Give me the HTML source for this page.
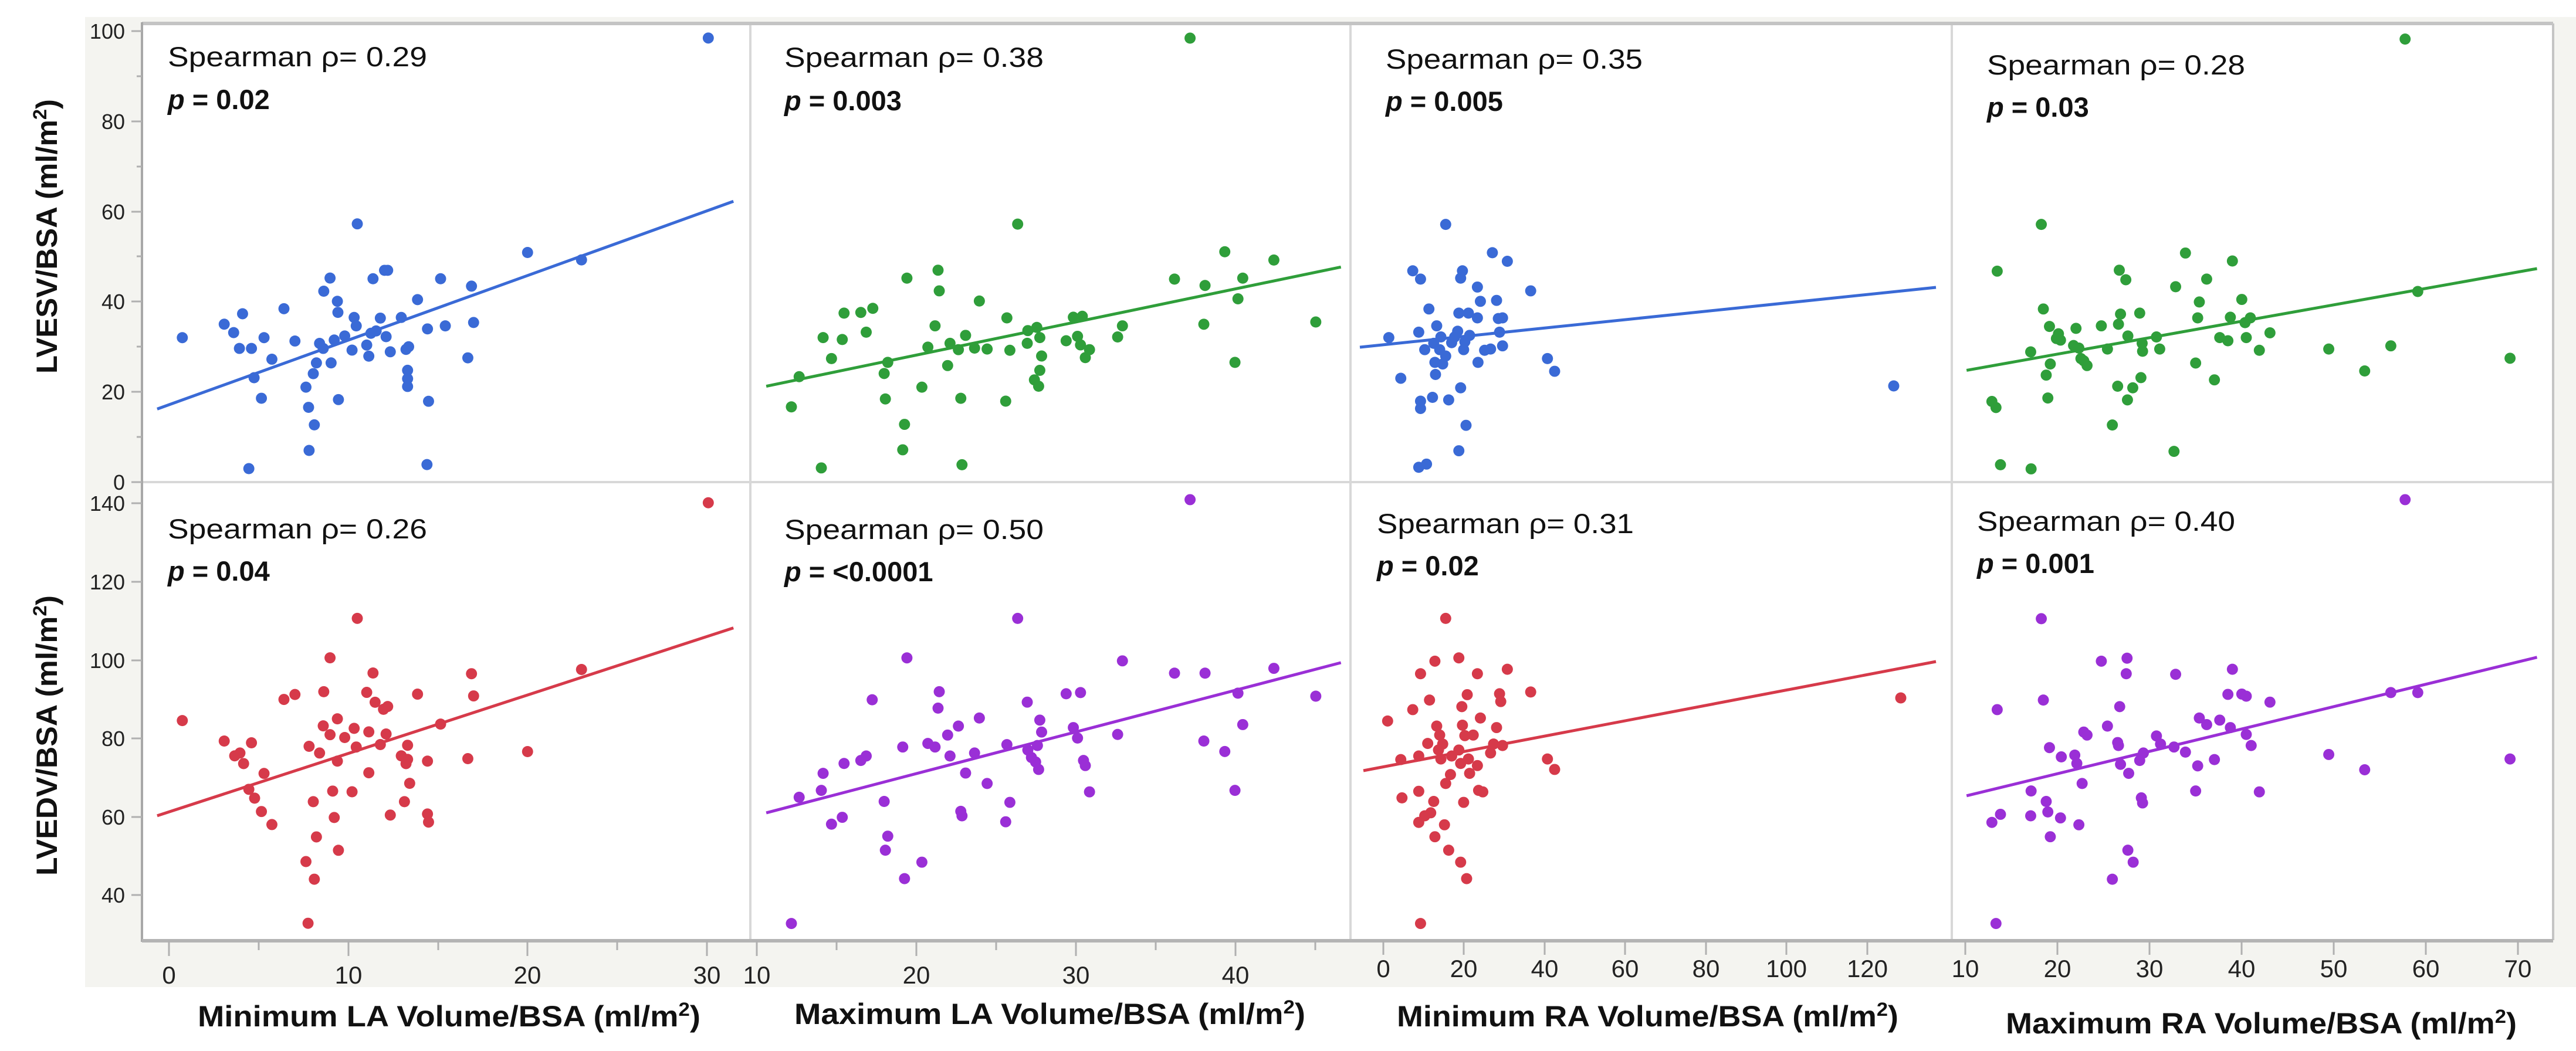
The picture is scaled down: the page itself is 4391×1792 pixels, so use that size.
<!DOCTYPE html>
<html><head><meta charset="utf-8"><style>
html,body{margin:0;padding:0;background:#fff;}
svg{display:block;}
.tk{font-family:"Liberation Sans Narrow","Liberation Sans",sans-serif;font-size:36px;fill:#222;}
.an{font-family:"Liberation Sans Narrow","Liberation Sans",sans-serif;font-size:47px;fill:#111;}
.ti{font-family:"Liberation Sans Narrow","Liberation Sans",sans-serif;font-size:50px;font-weight:bold;fill:#111;}
</style></head><body>
<svg width="4391" height="1792" viewBox="0 0 4391 1792" xmlns="http://www.w3.org/2000/svg">
<rect x="145" y="29" width="4246" height="1654" fill="#f4f4f0"/>
<rect x="242" y="40" width="4110" height="1563" fill="#fff"/>
<g stroke="#d8d8d8" stroke-width="4">
<line x1="1279" y1="40" x2="1279" y2="1603"/>
<line x1="2302" y1="40" x2="2302" y2="1603"/>
<line x1="3327" y1="40" x2="3327" y2="1603"/>
<line x1="242" y1="822" x2="4352" y2="822"/>
</g>
<line x1="242" y1="40" x2="4352" y2="40" stroke="#c4c4c4" stroke-width="6"/>
<line x1="4352" y1="40" x2="4352" y2="1603" stroke="#c4c4c4" stroke-width="4"/>
<line x1="242" y1="38" x2="242" y2="1606" stroke="#a8a8a8" stroke-width="4"/>
<line x1="242" y1="1604" x2="4352" y2="1604" stroke="#b4b4b4" stroke-width="6"/>

<g stroke="#b0b0b0" stroke-width="3">
<line x1="224" y1="53" x2="242" y2="53"/><line x1="224" y1="207" x2="242" y2="207"/><line x1="224" y1="361" x2="242" y2="361"/><line x1="224" y1="514" x2="242" y2="514"/><line x1="224" y1="668" x2="242" y2="668"/><line x1="224" y1="822" x2="242" y2="822"/>
<line x1="233" y1="130" x2="242" y2="130"/><line x1="233" y1="284" x2="242" y2="284"/><line x1="233" y1="437" x2="242" y2="437"/><line x1="233" y1="591" x2="242" y2="591"/><line x1="233" y1="745" x2="242" y2="745"/>
<line x1="224" y1="858" x2="242" y2="858"/><line x1="224" y1="992" x2="242" y2="992"/><line x1="224" y1="1126" x2="242" y2="1126"/><line x1="224" y1="1259" x2="242" y2="1259"/><line x1="224" y1="1393" x2="242" y2="1393"/><line x1="224" y1="1526" x2="242" y2="1526"/>
</g>
<g class="tk" text-anchor="end">
<text x="213" y="66">100</text><text x="213" y="220">80</text><text x="213" y="374">60</text><text x="213" y="527">40</text><text x="213" y="681">20</text><text x="213" y="835">0</text>
<text x="213" y="871">140</text><text x="213" y="1005">120</text><text x="213" y="1139">100</text><text x="213" y="1272">80</text><text x="213" y="1406">60</text><text x="213" y="1539">40</text>
</g>
<g stroke="#b0b0b0" stroke-width="3">
<line x1="288" y1="1604" x2="288" y2="1630"/><line x1="594" y1="1604" x2="594" y2="1630"/><line x1="899" y1="1604" x2="899" y2="1630"/><line x1="1205" y1="1604" x2="1205" y2="1630"/>
<line x1="441" y1="1604" x2="441" y2="1620"/><line x1="747" y1="1604" x2="747" y2="1620"/><line x1="1052" y1="1604" x2="1052" y2="1620"/>
<line x1="1290" y1="1604" x2="1290" y2="1630"/><line x1="1562" y1="1604" x2="1562" y2="1630"/><line x1="1834" y1="1604" x2="1834" y2="1630"/><line x1="2106" y1="1604" x2="2106" y2="1630"/>
<line x1="1426" y1="1604" x2="1426" y2="1620"/><line x1="1698" y1="1604" x2="1698" y2="1620"/><line x1="1970" y1="1604" x2="1970" y2="1620"/><line x1="2242" y1="1604" x2="2242" y2="1620"/>
<line x1="2358" y1="1604" x2="2358" y2="1628"/><line x1="2495" y1="1604" x2="2495" y2="1628"/><line x1="2633" y1="1604" x2="2633" y2="1628"/><line x1="2770" y1="1604" x2="2770" y2="1628"/><line x1="2908" y1="1604" x2="2908" y2="1628"/><line x1="3045" y1="1604" x2="3045" y2="1628"/><line x1="3183" y1="1604" x2="3183" y2="1628"/>
<line x1="3350" y1="1604" x2="3350" y2="1628"/><line x1="3507" y1="1604" x2="3507" y2="1628"/><line x1="3664" y1="1604" x2="3664" y2="1628"/><line x1="3821" y1="1604" x2="3821" y2="1628"/><line x1="3978" y1="1604" x2="3978" y2="1628"/><line x1="4135" y1="1604" x2="4135" y2="1628"/><line x1="4292" y1="1604" x2="4292" y2="1628"/>
</g>
<g class="tk" text-anchor="middle" style="font-size:42px">
<text x="288" y="1677">0</text><text x="594" y="1677">10</text><text x="899" y="1677">20</text><text x="1205" y="1677">30</text>
<text x="1290" y="1677">10</text><text x="1562" y="1677">20</text><text x="1834" y="1677">30</text><text x="2106" y="1677">40</text>
<text x="2358" y="1666">0</text><text x="2495" y="1666">20</text><text x="2633" y="1666">40</text><text x="2770" y="1666">60</text><text x="2908" y="1666">80</text><text x="3045" y="1666">100</text><text x="3183" y="1666">120</text>
<text x="3350" y="1666">10</text><text x="3507" y="1666">20</text><text x="3664" y="1666">30</text><text x="3821" y="1666">40</text><text x="3978" y="1666">50</text><text x="4135" y="1666">60</text><text x="4292" y="1666">70</text>
</g>

<text class="ti" transform="translate(97,403) rotate(-90)" text-anchor="middle" textLength="468" lengthAdjust="spacingAndGlyphs">LVESV/BSA (ml/m<tspan dy="-18" font-size="32">2</tspan><tspan dy="18">)</tspan></text>
<text class="ti" transform="translate(97,1254) rotate(-90)" text-anchor="middle" textLength="478" lengthAdjust="spacingAndGlyphs">LVEDV/BSA (ml/m<tspan dy="-18" font-size="32">2</tspan><tspan dy="18">)</tspan></text>
<text class="ti" x="337" y="1750" textLength="857" lengthAdjust="spacingAndGlyphs">Minimum LA Volume/BSA (ml/m<tspan dy="-18" font-size="32">2</tspan><tspan dy="18">)</tspan></text>
<text class="ti" x="1354" y="1746" textLength="871" lengthAdjust="spacingAndGlyphs">Maximum LA Volume/BSA (ml/m<tspan dy="-18" font-size="32">2</tspan><tspan dy="18">)</tspan></text>
<text class="ti" x="2381" y="1750" textLength="855" lengthAdjust="spacingAndGlyphs">Minimum RA Volume/BSA (ml/m<tspan dy="-18" font-size="32">2</tspan><tspan dy="18">)</tspan></text>
<text class="ti" x="3419" y="1762" textLength="871" lengthAdjust="spacingAndGlyphs">Maximum RA Volume/BSA (ml/m<tspan dy="-18" font-size="32">2</tspan><tspan dy="18">)</tspan></text>

<g class="an">
<text x="286" y="113" textLength="442" lengthAdjust="spacingAndGlyphs">Spearman ρ= 0.29</text>
<text x="286" y="186" font-weight="bold"><tspan font-style="italic">p</tspan> = 0.02</text>
<text x="1337" y="114" textLength="442" lengthAdjust="spacingAndGlyphs">Spearman ρ= 0.38</text>
<text x="1337" y="188" font-weight="bold"><tspan font-style="italic">p</tspan> = 0.003</text>
<text x="2362" y="117" textLength="438" lengthAdjust="spacingAndGlyphs">Spearman ρ= 0.35</text>
<text x="2362" y="189" font-weight="bold"><tspan font-style="italic">p</tspan> = 0.005</text>
<text x="3387" y="127" textLength="440" lengthAdjust="spacingAndGlyphs">Spearman ρ= 0.28</text>
<text x="3387" y="199" font-weight="bold"><tspan font-style="italic">p</tspan> = 0.03</text>
<text x="286" y="918" textLength="442" lengthAdjust="spacingAndGlyphs">Spearman ρ= 0.26</text>
<text x="286" y="990" font-weight="bold"><tspan font-style="italic">p</tspan> = 0.04</text>
<text x="1337" y="919" textLength="442" lengthAdjust="spacingAndGlyphs">Spearman ρ= 0.50</text>
<text x="1337" y="991" font-weight="bold"><tspan font-style="italic">p</tspan> = &lt;0.0001</text>
<text x="2347" y="909" textLength="438" lengthAdjust="spacingAndGlyphs">Spearman ρ= 0.31</text>
<text x="2347" y="981" font-weight="bold"><tspan font-style="italic">p</tspan> = 0.02</text>
<text x="3370" y="905" textLength="440" lengthAdjust="spacingAndGlyphs">Spearman ρ= 0.40</text>
<text x="3370" y="977" font-weight="bold"><tspan font-style="italic">p</tspan> = 0.001</text>
</g>

<g transform="scale(0.893,0.574)" fill="#3a6ad6">
<line x1="300" y1="1215" x2="1400" y2="598" stroke="#3a6ad6" stroke-width="5" vector-effect="non-scaling-stroke"/>
<ellipse cx="348" cy="1003" rx="10.6" ry="16.5"/><ellipse cx="428" cy="963" rx="10.6" ry="16.5"/><ellipse cx="446" cy="988" rx="10.6" ry="16.5"/><ellipse cx="463" cy="932" rx="10.6" ry="16.5"/><ellipse cx="457" cy="1035" rx="10.6" ry="16.5"/><ellipse cx="480" cy="1035" rx="10.6" ry="16.5"/><ellipse cx="475" cy="1392" rx="10.6" ry="16.5"/><ellipse cx="485" cy="1122" rx="10.6" ry="16.5"/><ellipse cx="499" cy="1183" rx="10.6" ry="16.5"/><ellipse cx="504" cy="1003" rx="10.6" ry="16.5"/><ellipse cx="519" cy="1067" rx="10.6" ry="16.5"/><ellipse cx="542" cy="917" rx="10.6" ry="16.5"/><ellipse cx="563" cy="1013" rx="10.6" ry="16.5"/><ellipse cx="584" cy="1150" rx="10.6" ry="16.5"/><ellipse cx="589" cy="1210" rx="10.6" ry="16.5"/><ellipse cx="590" cy="1338" rx="10.6" ry="16.5"/><ellipse cx="600" cy="1262" rx="10.6" ry="16.5"/><ellipse cx="598" cy="1110" rx="10.6" ry="16.5"/><ellipse cx="604" cy="1078" rx="10.6" ry="16.5"/><ellipse cx="610" cy="1020" rx="10.6" ry="16.5"/><ellipse cx="618" cy="865" rx="10.6" ry="16.5"/><ellipse cx="617" cy="1035" rx="10.6" ry="16.5"/><ellipse cx="630" cy="826" rx="10.6" ry="16.5"/><ellipse cx="632" cy="1078" rx="10.6" ry="16.5"/><ellipse cx="638" cy="1010" rx="10.6" ry="16.5"/><ellipse cx="644" cy="895" rx="10.6" ry="16.5"/><ellipse cx="645" cy="928" rx="10.6" ry="16.5"/><ellipse cx="646" cy="1187" rx="10.6" ry="16.5"/><ellipse cx="658" cy="998" rx="10.6" ry="16.5"/><ellipse cx="672" cy="1040" rx="10.6" ry="16.5"/><ellipse cx="676" cy="943" rx="10.6" ry="16.5"/><ellipse cx="680" cy="968" rx="10.6" ry="16.5"/><ellipse cx="682" cy="665" rx="10.6" ry="16.5"/><ellipse cx="700" cy="1025" rx="10.6" ry="16.5"/><ellipse cx="704" cy="1058" rx="10.6" ry="16.5"/><ellipse cx="712" cy="828" rx="10.6" ry="16.5"/><ellipse cx="708" cy="990" rx="10.6" ry="16.5"/><ellipse cx="718" cy="983" rx="10.6" ry="16.5"/><ellipse cx="726" cy="945" rx="10.6" ry="16.5"/><ellipse cx="734" cy="803" rx="10.6" ry="16.5"/><ellipse cx="740" cy="803" rx="10.6" ry="16.5"/><ellipse cx="737" cy="1000" rx="10.6" ry="16.5"/><ellipse cx="745" cy="1045" rx="10.6" ry="16.5"/><ellipse cx="766" cy="943" rx="10.6" ry="16.5"/><ellipse cx="775" cy="1038" rx="10.6" ry="16.5"/><ellipse cx="780" cy="1030" rx="10.6" ry="16.5"/><ellipse cx="778" cy="1100" rx="10.6" ry="16.5"/><ellipse cx="778" cy="1125" rx="10.6" ry="16.5"/><ellipse cx="778" cy="1148" rx="10.6" ry="16.5"/><ellipse cx="797" cy="890" rx="10.6" ry="16.5"/><ellipse cx="816" cy="977" rx="10.6" ry="16.5"/><ellipse cx="818" cy="1192" rx="10.6" ry="16.5"/><ellipse cx="815" cy="1380" rx="10.6" ry="16.5"/><ellipse cx="841" cy="828" rx="10.6" ry="16.5"/><ellipse cx="850" cy="968" rx="10.6" ry="16.5"/><ellipse cx="893" cy="1063" rx="10.6" ry="16.5"/><ellipse cx="900" cy="850" rx="10.6" ry="16.5"/><ellipse cx="904" cy="958" rx="10.6" ry="16.5"/><ellipse cx="1007" cy="750" rx="10.6" ry="16.5"/><ellipse cx="1110" cy="772" rx="10.6" ry="16.5"/><ellipse cx="1352" cy="113" rx="10.6" ry="16.5"/>
</g>

<g transform="translate(0,850) scale(0.893,0.601)" fill="#d63a4a">
<line x1="300" y1="900" x2="1400" y2="367" stroke="#d63a4a" stroke-width="5" vector-effect="non-scaling-stroke"/>
<ellipse cx="348" cy="630" rx="10.6" ry="15.8"/><ellipse cx="428" cy="688" rx="10.6" ry="15.8"/><ellipse cx="448" cy="730" rx="10.6" ry="15.8"/><ellipse cx="458" cy="722" rx="10.6" ry="15.8"/><ellipse cx="465" cy="752" rx="10.6" ry="15.8"/><ellipse cx="480" cy="693" rx="10.6" ry="15.8"/><ellipse cx="475" cy="825" rx="10.6" ry="15.8"/><ellipse cx="486" cy="850" rx="10.6" ry="15.8"/><ellipse cx="499" cy="888" rx="10.6" ry="15.8"/><ellipse cx="504" cy="780" rx="10.6" ry="15.8"/><ellipse cx="519" cy="925" rx="10.6" ry="15.8"/><ellipse cx="542" cy="570" rx="10.6" ry="15.8"/><ellipse cx="563" cy="556" rx="10.6" ry="15.8"/><ellipse cx="584" cy="1030" rx="10.6" ry="15.8"/><ellipse cx="588" cy="1205" rx="10.6" ry="15.8"/><ellipse cx="590" cy="703" rx="10.6" ry="15.8"/><ellipse cx="598" cy="860" rx="10.6" ry="15.8"/><ellipse cx="600" cy="1080" rx="10.6" ry="15.8"/><ellipse cx="604" cy="960" rx="10.6" ry="15.8"/><ellipse cx="610" cy="722" rx="10.6" ry="15.8"/><ellipse cx="618" cy="548" rx="10.6" ry="15.8"/><ellipse cx="617" cy="645" rx="10.6" ry="15.8"/><ellipse cx="630" cy="452" rx="10.6" ry="15.8"/><ellipse cx="630" cy="670" rx="10.6" ry="15.8"/><ellipse cx="635" cy="830" rx="10.6" ry="15.8"/><ellipse cx="638" cy="905" rx="10.6" ry="15.8"/><ellipse cx="644" cy="625" rx="10.6" ry="15.8"/><ellipse cx="644" cy="745" rx="10.6" ry="15.8"/><ellipse cx="646" cy="998" rx="10.6" ry="15.8"/><ellipse cx="658" cy="678" rx="10.6" ry="15.8"/><ellipse cx="672" cy="832" rx="10.6" ry="15.8"/><ellipse cx="676" cy="652" rx="10.6" ry="15.8"/><ellipse cx="680" cy="705" rx="10.6" ry="15.8"/><ellipse cx="682" cy="340" rx="10.6" ry="15.8"/><ellipse cx="700" cy="550" rx="10.6" ry="15.8"/><ellipse cx="704" cy="662" rx="10.6" ry="15.8"/><ellipse cx="704" cy="778" rx="10.6" ry="15.8"/><ellipse cx="712" cy="495" rx="10.6" ry="15.8"/><ellipse cx="716" cy="578" rx="10.6" ry="15.8"/><ellipse cx="726" cy="698" rx="10.6" ry="15.8"/><ellipse cx="732" cy="598" rx="10.6" ry="15.8"/><ellipse cx="740" cy="590" rx="10.6" ry="15.8"/><ellipse cx="737" cy="668" rx="10.6" ry="15.8"/><ellipse cx="745" cy="898" rx="10.6" ry="15.8"/><ellipse cx="766" cy="730" rx="10.6" ry="15.8"/><ellipse cx="772" cy="860" rx="10.6" ry="15.8"/><ellipse cx="775" cy="752" rx="10.6" ry="15.8"/><ellipse cx="778" cy="700" rx="10.6" ry="15.8"/><ellipse cx="778" cy="740" rx="10.6" ry="15.8"/><ellipse cx="782" cy="808" rx="10.6" ry="15.8"/><ellipse cx="797" cy="555" rx="10.6" ry="15.8"/><ellipse cx="816" cy="745" rx="10.6" ry="15.8"/><ellipse cx="816" cy="895" rx="10.6" ry="15.8"/><ellipse cx="818" cy="918" rx="10.6" ry="15.8"/><ellipse cx="841" cy="640" rx="10.6" ry="15.8"/><ellipse cx="893" cy="738" rx="10.6" ry="15.8"/><ellipse cx="900" cy="497" rx="10.6" ry="15.8"/><ellipse cx="904" cy="560" rx="10.6" ry="15.8"/><ellipse cx="1007" cy="718" rx="10.6" ry="15.8"/><ellipse cx="1110" cy="485" rx="10.6" ry="15.8"/><ellipse cx="1352" cy="12" rx="10.6" ry="15.8"/>
</g>

<g transform="translate(1250,0) scale(1.0204,0.542)" fill="#2f9e3a">
<line x1="55" y1="1215" x2="1015" y2="840" stroke="#2f9e3a" stroke-width="5" vector-effect="non-scaling-stroke"/>
<ellipse cx="97" cy="1280" rx="9.3" ry="17.5"/><ellipse cx="110" cy="1185" rx="9.3" ry="17.5"/><ellipse cx="147" cy="1472" rx="9.3" ry="17.5"/><ellipse cx="150" cy="1062" rx="9.3" ry="17.5"/><ellipse cx="164" cy="1128" rx="9.3" ry="17.5"/><ellipse cx="182" cy="1068" rx="9.3" ry="17.5"/><ellipse cx="185" cy="985" rx="9.3" ry="17.5"/><ellipse cx="213" cy="983" rx="9.3" ry="17.5"/><ellipse cx="222" cy="1045" rx="9.3" ry="17.5"/><ellipse cx="233" cy="970" rx="9.3" ry="17.5"/><ellipse cx="252" cy="1175" rx="9.3" ry="17.5"/><ellipse cx="254" cy="1255" rx="9.3" ry="17.5"/><ellipse cx="258" cy="1140" rx="9.3" ry="17.5"/><ellipse cx="283" cy="1415" rx="9.3" ry="17.5"/><ellipse cx="286" cy="1335" rx="9.3" ry="17.5"/><ellipse cx="290" cy="875" rx="9.3" ry="17.5"/><ellipse cx="315" cy="1218" rx="9.3" ry="17.5"/><ellipse cx="325" cy="1092" rx="9.3" ry="17.5"/><ellipse cx="337" cy="1025" rx="9.3" ry="17.5"/><ellipse cx="342" cy="850" rx="9.3" ry="17.5"/><ellipse cx="344" cy="915" rx="9.3" ry="17.5"/><ellipse cx="358" cy="1150" rx="9.3" ry="17.5"/><ellipse cx="362" cy="1080" rx="9.3" ry="17.5"/><ellipse cx="376" cy="1100" rx="9.3" ry="17.5"/><ellipse cx="380" cy="1253" rx="9.3" ry="17.5"/><ellipse cx="382" cy="1462" rx="9.3" ry="17.5"/><ellipse cx="388" cy="1055" rx="9.3" ry="17.5"/><ellipse cx="403" cy="1095" rx="9.3" ry="17.5"/><ellipse cx="411" cy="947" rx="9.3" ry="17.5"/><ellipse cx="424" cy="1098" rx="9.3" ry="17.5"/><ellipse cx="455" cy="1262" rx="9.3" ry="17.5"/><ellipse cx="457" cy="1000" rx="9.3" ry="17.5"/><ellipse cx="462" cy="1102" rx="9.3" ry="17.5"/><ellipse cx="475" cy="705" rx="9.3" ry="17.5"/><ellipse cx="491" cy="1080" rx="9.3" ry="17.5"/><ellipse cx="492" cy="1040" rx="9.3" ry="17.5"/><ellipse cx="503" cy="1195" rx="9.3" ry="17.5"/><ellipse cx="507" cy="1030" rx="9.3" ry="17.5"/><ellipse cx="510" cy="1215" rx="9.3" ry="17.5"/><ellipse cx="512" cy="1062" rx="9.3" ry="17.5"/><ellipse cx="515" cy="1120" rx="9.3" ry="17.5"/><ellipse cx="512" cy="1165" rx="9.3" ry="17.5"/><ellipse cx="556" cy="1072" rx="9.3" ry="17.5"/><ellipse cx="568" cy="998" rx="9.3" ry="17.5"/><ellipse cx="575" cy="1058" rx="9.3" ry="17.5"/><ellipse cx="580" cy="1085" rx="9.3" ry="17.5"/><ellipse cx="583" cy="995" rx="9.3" ry="17.5"/><ellipse cx="588" cy="1125" rx="9.3" ry="17.5"/><ellipse cx="595" cy="1100" rx="9.3" ry="17.5"/><ellipse cx="642" cy="1060" rx="9.3" ry="17.5"/><ellipse cx="650" cy="1025" rx="9.3" ry="17.5"/><ellipse cx="737" cy="878" rx="9.3" ry="17.5"/><ellipse cx="786" cy="1020" rx="9.3" ry="17.5"/><ellipse cx="788" cy="898" rx="9.3" ry="17.5"/><ellipse cx="821" cy="792" rx="9.3" ry="17.5"/><ellipse cx="838" cy="1140" rx="9.3" ry="17.5"/><ellipse cx="843" cy="940" rx="9.3" ry="17.5"/><ellipse cx="851" cy="875" rx="9.3" ry="17.5"/><ellipse cx="903" cy="818" rx="9.3" ry="17.5"/><ellipse cx="973" cy="1013" rx="9.3" ry="17.5"/><ellipse cx="763" cy="120" rx="9.3" ry="17.5"/>
</g>

<g transform="translate(1250,0) scale(1.0204,0.542)" fill="#3a6ad6">
<ellipse cx="1095" cy="1062" rx="9.3" ry="17.5"/><ellipse cx="1115" cy="1190" rx="9.3" ry="17.5"/><ellipse cx="1135" cy="852" rx="9.3" ry="17.5"/><ellipse cx="1148" cy="878" rx="9.3" ry="17.5"/><ellipse cx="1145" cy="1045" rx="9.3" ry="17.5"/><ellipse cx="1148" cy="1262" rx="9.3" ry="17.5"/><ellipse cx="1148" cy="1285" rx="9.3" ry="17.5"/><ellipse cx="1145" cy="1470" rx="9.3" ry="17.5"/><ellipse cx="1158" cy="1460" rx="9.3" ry="17.5"/><ellipse cx="1155" cy="1100" rx="9.3" ry="17.5"/><ellipse cx="1162" cy="972" rx="9.3" ry="17.5"/><ellipse cx="1168" cy="1250" rx="9.3" ry="17.5"/><ellipse cx="1170" cy="1080" rx="9.3" ry="17.5"/><ellipse cx="1172" cy="1140" rx="9.3" ry="17.5"/><ellipse cx="1173" cy="1178" rx="9.3" ry="17.5"/><ellipse cx="1175" cy="1025" rx="9.3" ry="17.5"/><ellipse cx="1180" cy="1100" rx="9.3" ry="17.5"/><ellipse cx="1182" cy="1060" rx="9.3" ry="17.5"/><ellipse cx="1185" cy="1145" rx="9.3" ry="17.5"/><ellipse cx="1190" cy="706" rx="9.3" ry="17.5"/><ellipse cx="1190" cy="1120" rx="9.3" ry="17.5"/><ellipse cx="1195" cy="1258" rx="9.3" ry="17.5"/><ellipse cx="1200" cy="1078" rx="9.3" ry="17.5"/><ellipse cx="1205" cy="1060" rx="9.3" ry="17.5"/><ellipse cx="1210" cy="1042" rx="9.3" ry="17.5"/><ellipse cx="1212" cy="1418" rx="9.3" ry="17.5"/><ellipse cx="1212" cy="985" rx="9.3" ry="17.5"/><ellipse cx="1215" cy="1220" rx="9.3" ry="17.5"/><ellipse cx="1215" cy="875" rx="9.3" ry="17.5"/><ellipse cx="1218" cy="852" rx="9.3" ry="17.5"/><ellipse cx="1220" cy="1100" rx="9.3" ry="17.5"/><ellipse cx="1222" cy="1075" rx="9.3" ry="17.5"/><ellipse cx="1224" cy="1338" rx="9.3" ry="17.5"/><ellipse cx="1228" cy="985" rx="9.3" ry="17.5"/><ellipse cx="1230" cy="1055" rx="9.3" ry="17.5"/><ellipse cx="1243" cy="1000" rx="9.3" ry="17.5"/><ellipse cx="1243" cy="903" rx="9.3" ry="17.5"/><ellipse cx="1244" cy="1140" rx="9.3" ry="17.5"/><ellipse cx="1248" cy="948" rx="9.3" ry="17.5"/><ellipse cx="1255" cy="1102" rx="9.3" ry="17.5"/><ellipse cx="1265" cy="1098" rx="9.3" ry="17.5"/><ellipse cx="1268" cy="795" rx="9.3" ry="17.5"/><ellipse cx="1275" cy="945" rx="9.3" ry="17.5"/><ellipse cx="1278" cy="1002" rx="9.3" ry="17.5"/><ellipse cx="1280" cy="1045" rx="9.3" ry="17.5"/><ellipse cx="1285" cy="1088" rx="9.3" ry="17.5"/><ellipse cx="1285" cy="1000" rx="9.3" ry="17.5"/><ellipse cx="1293" cy="822" rx="9.3" ry="17.5"/><ellipse cx="1332" cy="915" rx="9.3" ry="17.5"/><ellipse cx="1360" cy="1128" rx="9.3" ry="17.5"/><ellipse cx="1372" cy="1168" rx="9.3" ry="17.5"/>
</g>
<line x1="2318" y1="592" x2="3300" y2="490" stroke="#3a6ad6" stroke-width="5"/>
<circle cx="3228" cy="658" r="9.5" fill="#3a6ad6"/>

<g transform="translate(3300,0) scale(0.696,0.542)" fill="#2f9e3a">
<line x1="75" y1="1165" x2="1472" y2="845" stroke="#2f9e3a" stroke-width="5" vector-effect="non-scaling-stroke"/>
<ellipse cx="150" cy="853" rx="13.6" ry="17.5"/><ellipse cx="258" cy="706" rx="13.6" ry="17.5"/><ellipse cx="263" cy="972" rx="13.6" ry="17.5"/><ellipse cx="278" cy="1027" rx="13.6" ry="17.5"/><ellipse cx="300" cy="1050" rx="13.6" ry="17.5"/><ellipse cx="305" cy="1070" rx="13.6" ry="17.5"/><ellipse cx="295" cy="1065" rx="13.6" ry="17.5"/><ellipse cx="343" cy="1033" rx="13.6" ry="17.5"/><ellipse cx="337" cy="1087" rx="13.6" ry="17.5"/><ellipse cx="350" cy="1095" rx="13.6" ry="17.5"/><ellipse cx="355" cy="1128" rx="13.6" ry="17.5"/><ellipse cx="362" cy="1135" rx="13.6" ry="17.5"/><ellipse cx="370" cy="1150" rx="13.6" ry="17.5"/><ellipse cx="405" cy="1025" rx="13.6" ry="17.5"/><ellipse cx="420" cy="1098" rx="13.6" ry="17.5"/><ellipse cx="447" cy="1020" rx="13.6" ry="17.5"/><ellipse cx="452" cy="988" rx="13.6" ry="17.5"/><ellipse cx="449" cy="850" rx="13.6" ry="17.5"/><ellipse cx="465" cy="880" rx="13.6" ry="17.5"/><ellipse cx="470" cy="1057" rx="13.6" ry="17.5"/><ellipse cx="499" cy="985" rx="13.6" ry="17.5"/><ellipse cx="505" cy="1080" rx="13.6" ry="17.5"/><ellipse cx="506" cy="1105" rx="13.6" ry="17.5"/><ellipse cx="502" cy="1188" rx="13.6" ry="17.5"/><ellipse cx="482" cy="1220" rx="13.6" ry="17.5"/><ellipse cx="445" cy="1215" rx="13.6" ry="17.5"/><ellipse cx="469" cy="1258" rx="13.6" ry="17.5"/><ellipse cx="432" cy="1337" rx="13.6" ry="17.5"/><ellipse cx="548" cy="1098" rx="13.6" ry="17.5"/><ellipse cx="540" cy="1060" rx="13.6" ry="17.5"/><ellipse cx="587" cy="902" rx="13.6" ry="17.5"/><ellipse cx="611" cy="796" rx="13.6" ry="17.5"/><ellipse cx="641" cy="1000" rx="13.6" ry="17.5"/><ellipse cx="645" cy="950" rx="13.6" ry="17.5"/><ellipse cx="663" cy="878" rx="13.6" ry="17.5"/><ellipse cx="636" cy="1142" rx="13.6" ry="17.5"/><ellipse cx="682" cy="1195" rx="13.6" ry="17.5"/><ellipse cx="695" cy="1062" rx="13.6" ry="17.5"/><ellipse cx="715" cy="1072" rx="13.6" ry="17.5"/><ellipse cx="721" cy="998" rx="13.6" ry="17.5"/><ellipse cx="726" cy="821" rx="13.6" ry="17.5"/><ellipse cx="749" cy="942" rx="13.6" ry="17.5"/><ellipse cx="760" cy="1062" rx="13.6" ry="17.5"/><ellipse cx="757" cy="1015" rx="13.6" ry="17.5"/><ellipse cx="770" cy="1000" rx="13.6" ry="17.5"/><ellipse cx="792" cy="1102" rx="13.6" ry="17.5"/><ellipse cx="818" cy="1047" rx="13.6" ry="17.5"/><ellipse cx="962" cy="1098" rx="13.6" ry="17.5"/><ellipse cx="1050" cy="1167" rx="13.6" ry="17.5"/><ellipse cx="1114" cy="1088" rx="13.6" ry="17.5"/><ellipse cx="1180" cy="917" rx="13.6" ry="17.5"/><ellipse cx="1406" cy="1127" rx="13.6" ry="17.5"/><ellipse cx="1149" cy="123" rx="13.6" ry="17.5"/><ellipse cx="232" cy="1107" rx="13.6" ry="17.5"/><ellipse cx="280" cy="1145" rx="13.6" ry="17.5"/><ellipse cx="270" cy="1180" rx="13.6" ry="17.5"/><ellipse cx="274" cy="1252" rx="13.6" ry="17.5"/><ellipse cx="137" cy="1263" rx="13.6" ry="17.5"/><ellipse cx="147" cy="1282" rx="13.6" ry="17.5"/><ellipse cx="158" cy="1462" rx="13.6" ry="17.5"/><ellipse cx="233" cy="1475" rx="13.6" ry="17.5"/><ellipse cx="583" cy="1420" rx="13.6" ry="17.5"/>
</g>

<g transform="translate(1250,830) scale(1.0204,0.510)" fill="#9a2fd6">
<line x1="55" y1="1090" x2="1015" y2="588" stroke="#9a2fd6" stroke-width="5" vector-effect="non-scaling-stroke"/>
<ellipse cx="97" cy="1460" rx="9.3" ry="18.6"/><ellipse cx="110" cy="1038" rx="9.3" ry="18.6"/><ellipse cx="147" cy="1015" rx="9.3" ry="18.6"/><ellipse cx="150" cy="958" rx="9.3" ry="18.6"/><ellipse cx="164" cy="1128" rx="9.3" ry="18.6"/><ellipse cx="182" cy="1105" rx="9.3" ry="18.6"/><ellipse cx="185" cy="925" rx="9.3" ry="18.6"/><ellipse cx="213" cy="915" rx="9.3" ry="18.6"/><ellipse cx="222" cy="900" rx="9.3" ry="18.6"/><ellipse cx="232" cy="712" rx="9.3" ry="18.6"/><ellipse cx="252" cy="1052" rx="9.3" ry="18.6"/><ellipse cx="254" cy="1215" rx="9.3" ry="18.6"/><ellipse cx="258" cy="1168" rx="9.3" ry="18.6"/><ellipse cx="283" cy="870" rx="9.3" ry="18.6"/><ellipse cx="286" cy="1310" rx="9.3" ry="18.6"/><ellipse cx="290" cy="572" rx="9.3" ry="18.6"/><ellipse cx="315" cy="1255" rx="9.3" ry="18.6"/><ellipse cx="325" cy="858" rx="9.3" ry="18.6"/><ellipse cx="337" cy="870" rx="9.3" ry="18.6"/><ellipse cx="342" cy="740" rx="9.3" ry="18.6"/><ellipse cx="344" cy="685" rx="9.3" ry="18.6"/><ellipse cx="358" cy="830" rx="9.3" ry="18.6"/><ellipse cx="362" cy="900" rx="9.3" ry="18.6"/><ellipse cx="376" cy="800" rx="9.3" ry="18.6"/><ellipse cx="380" cy="1085" rx="9.3" ry="18.6"/><ellipse cx="382" cy="1100" rx="9.3" ry="18.6"/><ellipse cx="388" cy="957" rx="9.3" ry="18.6"/><ellipse cx="403" cy="890" rx="9.3" ry="18.6"/><ellipse cx="411" cy="773" rx="9.3" ry="18.6"/><ellipse cx="424" cy="992" rx="9.3" ry="18.6"/><ellipse cx="455" cy="1120" rx="9.3" ry="18.6"/><ellipse cx="457" cy="862" rx="9.3" ry="18.6"/><ellipse cx="462" cy="1055" rx="9.3" ry="18.6"/><ellipse cx="475" cy="440" rx="9.3" ry="18.6"/><ellipse cx="491" cy="720" rx="9.3" ry="18.6"/><ellipse cx="492" cy="880" rx="9.3" ry="18.6"/><ellipse cx="498" cy="905" rx="9.3" ry="18.6"/><ellipse cx="505" cy="920" rx="9.3" ry="18.6"/><ellipse cx="510" cy="945" rx="9.3" ry="18.6"/><ellipse cx="512" cy="780" rx="9.3" ry="18.6"/><ellipse cx="515" cy="820" rx="9.3" ry="18.6"/><ellipse cx="508" cy="865" rx="9.3" ry="18.6"/><ellipse cx="556" cy="692" rx="9.3" ry="18.6"/><ellipse cx="580" cy="688" rx="9.3" ry="18.6"/><ellipse cx="568" cy="805" rx="9.3" ry="18.6"/><ellipse cx="575" cy="840" rx="9.3" ry="18.6"/><ellipse cx="585" cy="915" rx="9.3" ry="18.6"/><ellipse cx="588" cy="932" rx="9.3" ry="18.6"/><ellipse cx="595" cy="1020" rx="9.3" ry="18.6"/><ellipse cx="642" cy="828" rx="9.3" ry="18.6"/><ellipse cx="650" cy="582" rx="9.3" ry="18.6"/><ellipse cx="737" cy="623" rx="9.3" ry="18.6"/><ellipse cx="786" cy="850" rx="9.3" ry="18.6"/><ellipse cx="788" cy="623" rx="9.3" ry="18.6"/><ellipse cx="821" cy="885" rx="9.3" ry="18.6"/><ellipse cx="838" cy="1015" rx="9.3" ry="18.6"/><ellipse cx="843" cy="690" rx="9.3" ry="18.6"/><ellipse cx="851" cy="795" rx="9.3" ry="18.6"/><ellipse cx="903" cy="607" rx="9.3" ry="18.6"/><ellipse cx="973" cy="700" rx="9.3" ry="18.6"/><ellipse cx="763" cy="43" rx="9.3" ry="18.6"/>
</g>

<g transform="translate(1250,830) scale(1.0204,0.510)" fill="#d63a4a">
<ellipse cx="1093" cy="783" rx="9.3" ry="18.6"/><ellipse cx="1115" cy="912" rx="9.3" ry="18.6"/><ellipse cx="1117" cy="1040" rx="9.3" ry="18.6"/><ellipse cx="1135" cy="745" rx="9.3" ry="18.6"/><ellipse cx="1145" cy="900" rx="9.3" ry="18.6"/><ellipse cx="1145" cy="1018" rx="9.3" ry="18.6"/><ellipse cx="1148" cy="625" rx="9.3" ry="18.6"/><ellipse cx="1145" cy="1122" rx="9.3" ry="18.6"/><ellipse cx="1155" cy="1100" rx="9.3" ry="18.6"/><ellipse cx="1160" cy="858" rx="9.3" ry="18.6"/><ellipse cx="1163" cy="713" rx="9.3" ry="18.6"/><ellipse cx="1165" cy="1090" rx="9.3" ry="18.6"/><ellipse cx="1170" cy="1052" rx="9.3" ry="18.6"/><ellipse cx="1172" cy="583" rx="9.3" ry="18.6"/><ellipse cx="1172" cy="1170" rx="9.3" ry="18.6"/><ellipse cx="1175" cy="800" rx="9.3" ry="18.6"/><ellipse cx="1178" cy="880" rx="9.3" ry="18.6"/><ellipse cx="1180" cy="830" rx="9.3" ry="18.6"/><ellipse cx="1182" cy="910" rx="9.3" ry="18.6"/><ellipse cx="1185" cy="860" rx="9.3" ry="18.6"/><ellipse cx="1188" cy="1130" rx="9.3" ry="18.6"/><ellipse cx="1190" cy="440" rx="9.3" ry="18.6"/><ellipse cx="1190" cy="992" rx="9.3" ry="18.6"/><ellipse cx="1195" cy="1215" rx="9.3" ry="18.6"/><ellipse cx="1198" cy="962" rx="9.3" ry="18.6"/><ellipse cx="1200" cy="900" rx="9.3" ry="18.6"/><ellipse cx="1212" cy="572" rx="9.3" ry="18.6"/><ellipse cx="1212" cy="880" rx="9.3" ry="18.6"/><ellipse cx="1215" cy="1255" rx="9.3" ry="18.6"/><ellipse cx="1215" cy="925" rx="9.3" ry="18.6"/><ellipse cx="1217" cy="735" rx="9.3" ry="18.6"/><ellipse cx="1218" cy="797" rx="9.3" ry="18.6"/><ellipse cx="1220" cy="1055" rx="9.3" ry="18.6"/><ellipse cx="1222" cy="832" rx="9.3" ry="18.6"/><ellipse cx="1225" cy="1310" rx="9.3" ry="18.6"/><ellipse cx="1226" cy="695" rx="9.3" ry="18.6"/><ellipse cx="1228" cy="910" rx="9.3" ry="18.6"/><ellipse cx="1230" cy="958" rx="9.3" ry="18.6"/><ellipse cx="1236" cy="830" rx="9.3" ry="18.6"/><ellipse cx="1243" cy="625" rx="9.3" ry="18.6"/><ellipse cx="1243" cy="932" rx="9.3" ry="18.6"/><ellipse cx="1245" cy="1015" rx="9.3" ry="18.6"/><ellipse cx="1248" cy="773" rx="9.3" ry="18.6"/><ellipse cx="1252" cy="1020" rx="9.3" ry="18.6"/><ellipse cx="1265" cy="890" rx="9.3" ry="18.6"/><ellipse cx="1270" cy="860" rx="9.3" ry="18.6"/><ellipse cx="1275" cy="805" rx="9.3" ry="18.6"/><ellipse cx="1280" cy="692" rx="9.3" ry="18.6"/><ellipse cx="1282" cy="718" rx="9.3" ry="18.6"/><ellipse cx="1285" cy="865" rx="9.3" ry="18.6"/><ellipse cx="1293" cy="610" rx="9.3" ry="18.6"/><ellipse cx="1332" cy="686" rx="9.3" ry="18.6"/><ellipse cx="1360" cy="910" rx="9.3" ry="18.6"/><ellipse cx="1372" cy="945" rx="9.3" ry="18.6"/><ellipse cx="1148" cy="1460" rx="9.3" ry="18.6"/>
</g>
<line x1="2324" y1="1314" x2="3300" y2="1128" stroke="#d63a4a" stroke-width="5"/>
<circle cx="3240" cy="1190" r="9.5" fill="#d63a4a"/>

<g transform="translate(3300,830) scale(0.696,0.510)" fill="#9a2fd6">
<line x1="75" y1="1033" x2="1472" y2="570" stroke="#9a2fd6" stroke-width="5" vector-effect="non-scaling-stroke"/>
<ellipse cx="147" cy="1460" rx="13.6" ry="18.6"/><ellipse cx="137" cy="1122" rx="13.6" ry="18.6"/><ellipse cx="158" cy="1095" rx="13.6" ry="18.6"/><ellipse cx="150" cy="745" rx="13.6" ry="18.6"/><ellipse cx="232" cy="1100" rx="13.6" ry="18.6"/><ellipse cx="233" cy="1017" rx="13.6" ry="18.6"/><ellipse cx="258" cy="441" rx="13.6" ry="18.6"/><ellipse cx="263" cy="713" rx="13.6" ry="18.6"/><ellipse cx="270" cy="1052" rx="13.6" ry="18.6"/><ellipse cx="274" cy="1087" rx="13.6" ry="18.6"/><ellipse cx="278" cy="872" rx="13.6" ry="18.6"/><ellipse cx="280" cy="1170" rx="13.6" ry="18.6"/><ellipse cx="305" cy="1107" rx="13.6" ry="18.6"/><ellipse cx="307" cy="903" rx="13.6" ry="18.6"/><ellipse cx="340" cy="897" rx="13.6" ry="18.6"/><ellipse cx="345" cy="925" rx="13.6" ry="18.6"/><ellipse cx="350" cy="1130" rx="13.6" ry="18.6"/><ellipse cx="358" cy="992" rx="13.6" ry="18.6"/><ellipse cx="362" cy="820" rx="13.6" ry="18.6"/><ellipse cx="370" cy="830" rx="13.6" ry="18.6"/><ellipse cx="405" cy="583" rx="13.6" ry="18.6"/><ellipse cx="420" cy="800" rx="13.6" ry="18.6"/><ellipse cx="432" cy="1312" rx="13.6" ry="18.6"/><ellipse cx="445" cy="855" rx="13.6" ry="18.6"/><ellipse cx="447" cy="865" rx="13.6" ry="18.6"/><ellipse cx="450" cy="735" rx="13.6" ry="18.6"/><ellipse cx="452" cy="928" rx="13.6" ry="18.6"/><ellipse cx="466" cy="625" rx="13.6" ry="18.6"/><ellipse cx="468" cy="573" rx="13.6" ry="18.6"/><ellipse cx="470" cy="1215" rx="13.6" ry="18.6"/><ellipse cx="472" cy="958" rx="13.6" ry="18.6"/><ellipse cx="483" cy="1255" rx="13.6" ry="18.6"/><ellipse cx="499" cy="915" rx="13.6" ry="18.6"/><ellipse cx="503" cy="1040" rx="13.6" ry="18.6"/><ellipse cx="506" cy="1057" rx="13.6" ry="18.6"/><ellipse cx="508" cy="890" rx="13.6" ry="18.6"/><ellipse cx="540" cy="833" rx="13.6" ry="18.6"/><ellipse cx="550" cy="860" rx="13.6" ry="18.6"/><ellipse cx="583" cy="870" rx="13.6" ry="18.6"/><ellipse cx="587" cy="627" rx="13.6" ry="18.6"/><ellipse cx="611" cy="887" rx="13.6" ry="18.6"/><ellipse cx="636" cy="1017" rx="13.6" ry="18.6"/><ellipse cx="641" cy="933" rx="13.6" ry="18.6"/><ellipse cx="645" cy="773" rx="13.6" ry="18.6"/><ellipse cx="663" cy="795" rx="13.6" ry="18.6"/><ellipse cx="682" cy="912" rx="13.6" ry="18.6"/><ellipse cx="695" cy="780" rx="13.6" ry="18.6"/><ellipse cx="715" cy="694" rx="13.6" ry="18.6"/><ellipse cx="721" cy="805" rx="13.6" ry="18.6"/><ellipse cx="726" cy="610" rx="13.6" ry="18.6"/><ellipse cx="749" cy="693" rx="13.6" ry="18.6"/><ellipse cx="760" cy="700" rx="13.6" ry="18.6"/><ellipse cx="760" cy="828" rx="13.6" ry="18.6"/><ellipse cx="772" cy="865" rx="13.6" ry="18.6"/><ellipse cx="792" cy="1020" rx="13.6" ry="18.6"/><ellipse cx="818" cy="720" rx="13.6" ry="18.6"/><ellipse cx="962" cy="895" rx="13.6" ry="18.6"/><ellipse cx="1050" cy="946" rx="13.6" ry="18.6"/><ellipse cx="1114" cy="688" rx="13.6" ry="18.6"/><ellipse cx="1180" cy="688" rx="13.6" ry="18.6"/><ellipse cx="1406" cy="910" rx="13.6" ry="18.6"/><ellipse cx="1149" cy="43" rx="13.6" ry="18.6"/>
</g>
</svg>
</body></html>
